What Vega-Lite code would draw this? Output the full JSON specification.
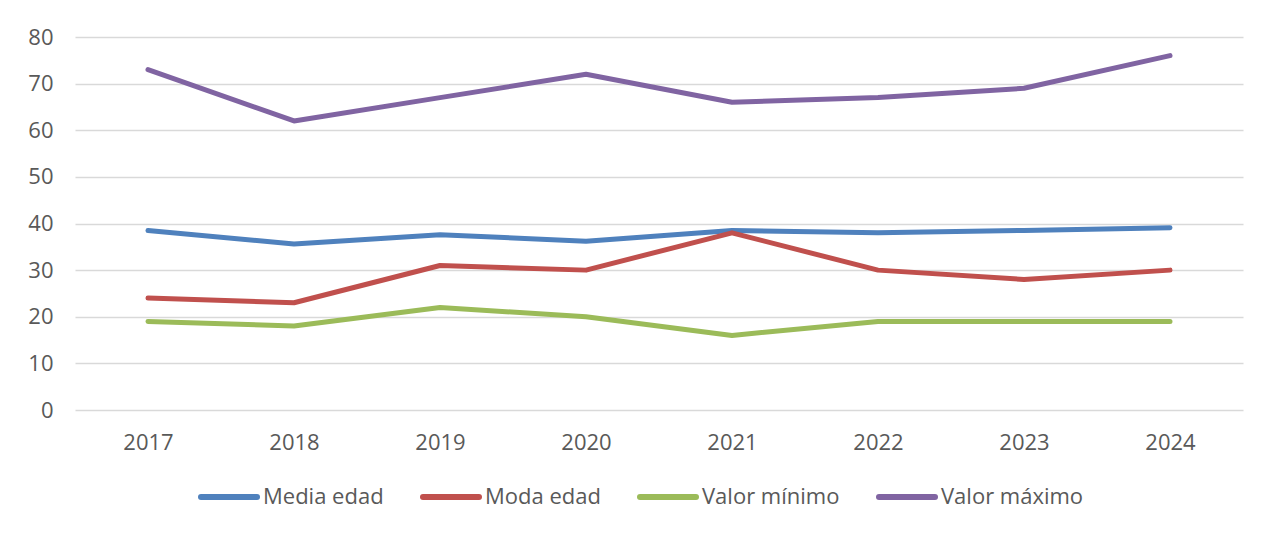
{
  "$schema": "https://vega.github.io/schema/vega-lite/v6.json",
  "width": 1168,
  "height": 373,
  "autosize": {"type": "none"},
  "padding": {"left": 75, "top": 37, "right": 20, "bottom": 127},
  "background": "white",
  "config": {
    "view": {"stroke": null},
    "font": "Open Sans"
  },
  "data": {
    "values": [
      {"year": "2017", "serie": "Media edad", "valor": 38.5},
      {"year": "2018", "serie": "Media edad", "valor": 35.6},
      {"year": "2019", "serie": "Media edad", "valor": 37.6},
      {"year": "2020", "serie": "Media edad", "valor": 36.2},
      {"year": "2021", "serie": "Media edad", "valor": 38.5},
      {"year": "2022", "serie": "Media edad", "valor": 38.0},
      {"year": "2023", "serie": "Media edad", "valor": 38.5},
      {"year": "2024", "serie": "Media edad", "valor": 39.1},
      {"year": "2017", "serie": "Moda edad", "valor": 24},
      {"year": "2018", "serie": "Moda edad", "valor": 23},
      {"year": "2019", "serie": "Moda edad", "valor": 31},
      {"year": "2020", "serie": "Moda edad", "valor": 30},
      {"year": "2021", "serie": "Moda edad", "valor": 38},
      {"year": "2022", "serie": "Moda edad", "valor": 30},
      {"year": "2023", "serie": "Moda edad", "valor": 28},
      {"year": "2024", "serie": "Moda edad", "valor": 30},
      {"year": "2017", "serie": "Valor mínimo", "valor": 19},
      {"year": "2018", "serie": "Valor mínimo", "valor": 18},
      {"year": "2019", "serie": "Valor mínimo", "valor": 22},
      {"year": "2020", "serie": "Valor mínimo", "valor": 20},
      {"year": "2021", "serie": "Valor mínimo", "valor": 16},
      {"year": "2022", "serie": "Valor mínimo", "valor": 19},
      {"year": "2023", "serie": "Valor mínimo", "valor": 19},
      {"year": "2024", "serie": "Valor mínimo", "valor": 19},
      {"year": "2017", "serie": "Valor máximo", "valor": 73},
      {"year": "2018", "serie": "Valor máximo", "valor": 62},
      {"year": "2019", "serie": "Valor máximo", "valor": 67},
      {"year": "2020", "serie": "Valor máximo", "valor": 72},
      {"year": "2021", "serie": "Valor máximo", "valor": 66},
      {"year": "2022", "serie": "Valor máximo", "valor": 67},
      {"year": "2023", "serie": "Valor máximo", "valor": 69},
      {"year": "2024", "serie": "Valor máximo", "valor": 76}
    ]
  },
  "mark": {"type": "line", "strokeWidth": 5, "strokeCap": "round", "strokeJoin": "round"},
  "encoding": {
    "x": {
      "field": "year",
      "type": "ordinal",
      "scale": {"type": "point", "padding": 0.5},
      "axis": {
        "title": null,
        "labelAngle": 0,
        "ticks": false,
        "domain": false,
        "labelPadding": 22,
        "labelFont": "Open Sans",
        "labelFontSize": 22,
        "labelColor": "#595959"
      }
    },
    "y": {
      "field": "valor",
      "type": "quantitative",
      "scale": {"domain": [0, 80], "nice": false, "zero": true},
      "axis": {
        "title": null,
        "values": [0, 10, 20, 30, 40, 50, 60, 70, 80],
        "ticks": false,
        "domain": false,
        "grid": true,
        "gridColor": "#d9d9d9",
        "gridWidth": 1.5,
        "labelPadding": 22,
        "labelFont": "Open Sans",
        "labelFontSize": 22,
        "labelColor": "#595959"
      }
    },
    "color": {
      "field": "serie",
      "type": "nominal",
      "sort": ["Media edad", "Moda edad", "Valor mínimo", "Valor máximo"],
      "scale": {
        "domain": ["Media edad", "Moda edad", "Valor mínimo", "Valor máximo"],
        "range": ["#4f81bd", "#c0504d", "#9bbb59", "#8064a2"]
      },
      "legend": {
        "title": null,
        "orient": "none",
        "direction": "horizontal",
        "legendX": 123,
        "legendY": 429,
        "symbolType": "stroke",
        "symbolSize": 3136,
        "symbolStrokeWidth": 6,
        "labelFont": "Open Sans",
        "labelFontSize": 22,
        "labelColor": "#595959",
        "labelOffset": 3,
        "columnPadding": 27,
        "encode": {
          "symbols": {"update": {"strokeCap": {"value": "round"}}}
        }
      }
    }
  }
}
